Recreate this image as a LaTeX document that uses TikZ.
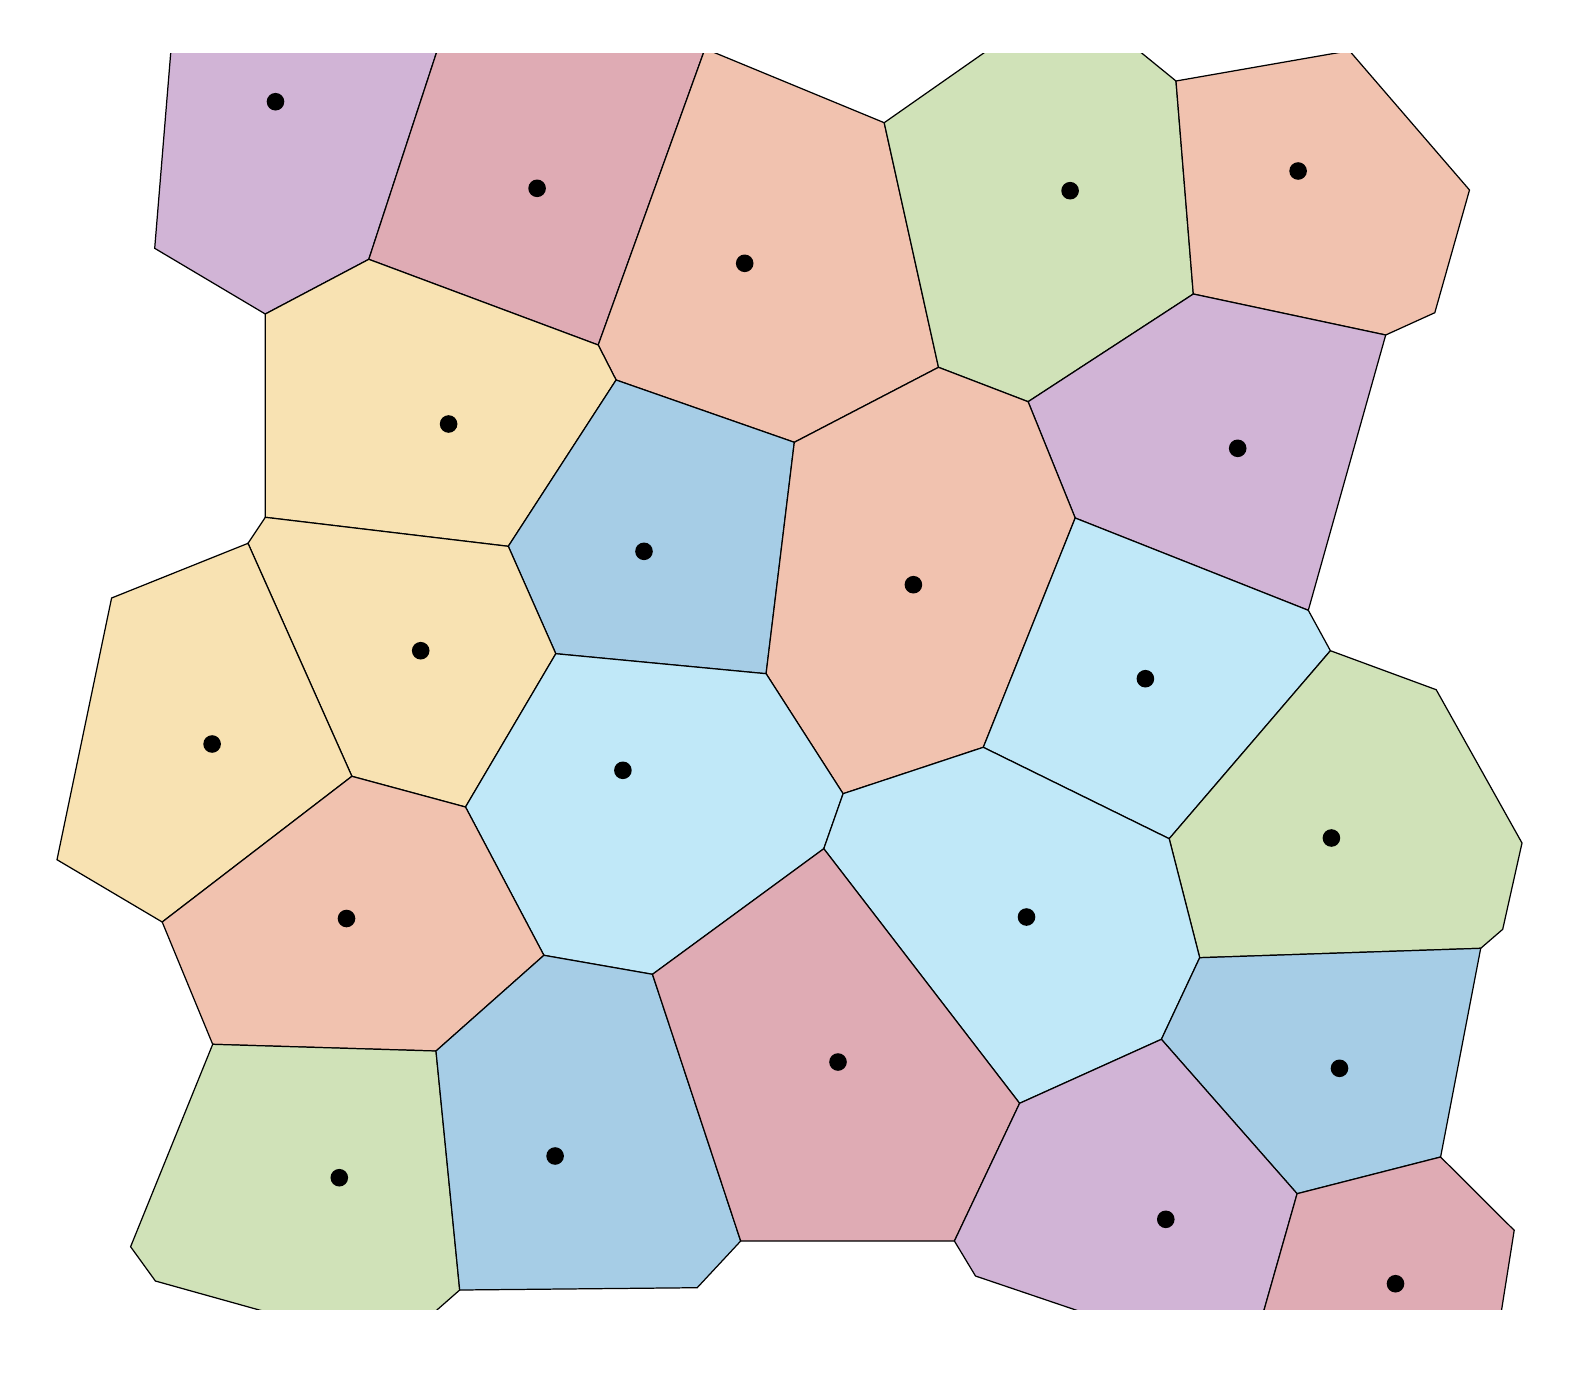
\documentclass[tikz,border=0pt]{standalone}
\usepackage{tikz}
\definecolor{cpurple}{RGB}{209,180,214}
\definecolor{cpinkred}{RGB}{223,171,180}
\definecolor{csalmon}{RGB}{241,194,175}
\definecolor{cgreen}{RGB}{208,226,184}
\definecolor{cyellow}{RGB}{248,226,178}
\definecolor{cblue}{RGB}{166,205,230}
\definecolor{clight}{RGB}{192,232,248}
\tikzset{
  cell/.style={draw=black, line width=0.35pt},
  site/.style={fill=black},
}
\begin{document}
\begin{tikzpicture}[x=0.01cm,y=-0.01cm]
\useasboundingbox (0,0) rectangle (1596,1375);
% vertices
\coordinate (T1) at (172.6,30);
\coordinate (a2) at (154.7,248.3);
\coordinate (a3) at (265.3,314.0);
\coordinate (a4) at (368.8,259.3);
\coordinate (T2) at (443.9,30);
\coordinate (b2) at (598.2,345.0);
\coordinate (T3) at (705.0,48.7);
\coordinate (b3) at (616.1,380.0);
\coordinate (b4) at (794.3,442.3);
\coordinate (b5) at (938.5,367.3);
\coordinate (b6) at (884.2,122.7);
\coordinate (T4) at (1016.6,30);
\coordinate (T5) at (1113.4,30);
\coordinate (c2) at (1176.0,81.0);
\coordinate (c3) at (1193.3,294.0);
\coordinate (b9) at (1028.1,401.7);
\coordinate (T6) at (1349.4,50.7);
\coordinate (c6) at (1469.5,190.0);
\coordinate (c7) at (1434.8,312.7);
\coordinate (c8) at (1385.7,335.0);
\coordinate (e1) at (265.3,517.3);
\coordinate (e2) at (248.0,543.3);
\coordinate (e3) at (111.6,598.0);
\coordinate (e4) at (57.0,859.7);
\coordinate (e5) at (508.3,546.3);
\coordinate (e6) at (351.9,776.3);
\coordinate (e7) at (465.5,807.0);
\coordinate (f1) at (555.8,653.7);
\coordinate (f2) at (766.1,673.7);
\coordinate (f4) at (843.1,793.7);
\coordinate (f5) at (983.3,747.3);
\coordinate (f6) at (823.8,848.7);
\coordinate (g1) at (1075.2,518);
\coordinate (g2) at (1308.3,610.3);
\coordinate (g3) at (1330.4,650.7);
\coordinate (g4) at (1436.2,689.7);
\coordinate (g5) at (1522.0,843);
\coordinate (g6) at (1169.2,838.7);
\coordinate (h1) at (162.2,922);
\coordinate (h2) at (212.7,1044.3);
\coordinate (h3) at (436.0,1051);
\coordinate (h4) at (130.6,1246.7);
\coordinate (h5) at (155.4,1281);
\coordinate (B1) at (366.8,1340);
\coordinate (B2) at (402.7,1340);
\coordinate (h7) at (459.7,1290);
\coordinate (i1) at (543.9,955.3);
\coordinate (i2) at (652.5,974.3);
\coordinate (i3) at (740.7,1241);
\coordinate (i4) at (697.2,1287.7);
\coordinate (i5) at (954.4,1241);
\coordinate (i6) at (1019.6,1103.3);
\coordinate (i7) at (975.5,1276);
\coordinate (B3) at (1164.3,1340);
\coordinate (B4) at (1255.5,1340);
\coordinate (j1) at (1199.7,957.7);
\coordinate (j2) at (1480.7,948.3);
\coordinate (j3) at (1502.7,929.3);
\coordinate (j4) at (1161.4,1039.3);
\coordinate (j5) at (1297.1,1193.7);
\coordinate (j6) at (1440.6,1157);
\coordinate (j7) at (1514.2,1230.3);
\coordinate (B5) at (1496.8,1340);
\begin{scope}
\clip (0,53.3) rectangle (1596,1309.3);
\filldraw[cell, fill=cpurple]  (T1) -- (a2) -- (a3) -- (a4) -- (T2) -- cycle;
\filldraw[cell, fill=cpinkred] (T2) -- (a4) -- (b2) -- (T3) -- cycle;
\filldraw[cell, fill=csalmon]  (T3) -- (b2) -- (b3) -- (b4) -- (b5) -- (b6) -- cycle;
\filldraw[cell, fill=cgreen]   (b6) -- (T4) -- (T5) -- (c2) -- (c3) -- (b9) -- (b5) -- cycle;
\filldraw[cell, fill=csalmon]  (c2) -- (T6) -- (c6) -- (c7) -- (c8) -- (c3) -- cycle;
\filldraw[cell, fill=cyellow]  (a3) -- (a4) -- (b2) -- (b3) -- (e5) -- (e1) -- cycle;
\filldraw[cell, fill=cpurple]  (c3) -- (c8) -- (g2) -- (g1) -- (b9) -- cycle;
\filldraw[cell, fill=cblue]    (b3) -- (b4) -- (f2) -- (f1) -- (e5) -- cycle;
\filldraw[cell, fill=csalmon]  (b4) -- (b5) -- (b9) -- (g1) -- (f5) -- (f4) -- (f2) -- cycle;
\filldraw[cell, fill=cyellow]  (e1) -- (e5) -- (f1) -- (e7) -- (e6) -- (e2) -- cycle;
\filldraw[cell, fill=cyellow]  (e2) -- (e6) -- (h1) -- (e4) -- (e3) -- cycle;
\filldraw[cell, fill=clight]   (f1) -- (f2) -- (f4) -- (f6) -- (i2) -- (i1) -- (e7) -- cycle;
\filldraw[cell, fill=clight]   (g1) -- (g2) -- (g3) -- (g6) -- (f5) -- cycle;
\filldraw[cell, fill=cgreen]   (g3) -- (g4) -- (g5) -- (j3) -- (j2) -- (j1) -- (g6) -- cycle;
\filldraw[cell, fill=csalmon]  (h1) -- (e6) -- (e7) -- (i1) -- (h3) -- (h2) -- cycle;
\filldraw[cell, fill=clight]   (f4) -- (f5) -- (g6) -- (j1) -- (j4) -- (i6) -- (f6) -- cycle;
\filldraw[cell, fill=cgreen]   (h2) -- (h3) -- (h7) -- (B2) -- (B1) -- (h5) -- (h4) -- cycle;
\filldraw[cell, fill=cblue]    (h3) -- (i1) -- (i2) -- (i3) -- (i4) -- (h7) -- cycle;
\filldraw[cell, fill=cpinkred] (i2) -- (f6) -- (i6) -- (i5) -- (i3) -- cycle;
\filldraw[cell, fill=cblue]    (j1) -- (j2) -- (j6) -- (j5) -- (j4) -- cycle;
\filldraw[cell, fill=cpurple]  (j4) -- (j5) -- (B4) -- (B3) -- (i7) -- (i5) -- (i6) -- cycle;
\filldraw[cell, fill=cpinkred] (j5) -- (j6) -- (j7) -- (B5) -- (B4) -- cycle;
\end{scope}
% sites
\foreach \p in {(275.5,101.7),(537.1,188.3),(744.7,263.3),(1070.1,190.7),(1298.1,171.0),
  (448.6,424),(1237.7,448.3),(644.0,551.3),(913.4,584.7),(420.7,650.7),(212.1,744.0),
  (622.9,770.3),(1145.4,678.7),(1331.4,838),(346.5,918.5),(1026.5,917),(339.3,1177.7),
  (555.1,1156),(838.0,1062),(1339.5,1068.3),(1165.8,1219.3),(1395.5,1283.7)}
  \fill[site] \p circle[radius=0.088cm];
\end{tikzpicture}
\end{document}
